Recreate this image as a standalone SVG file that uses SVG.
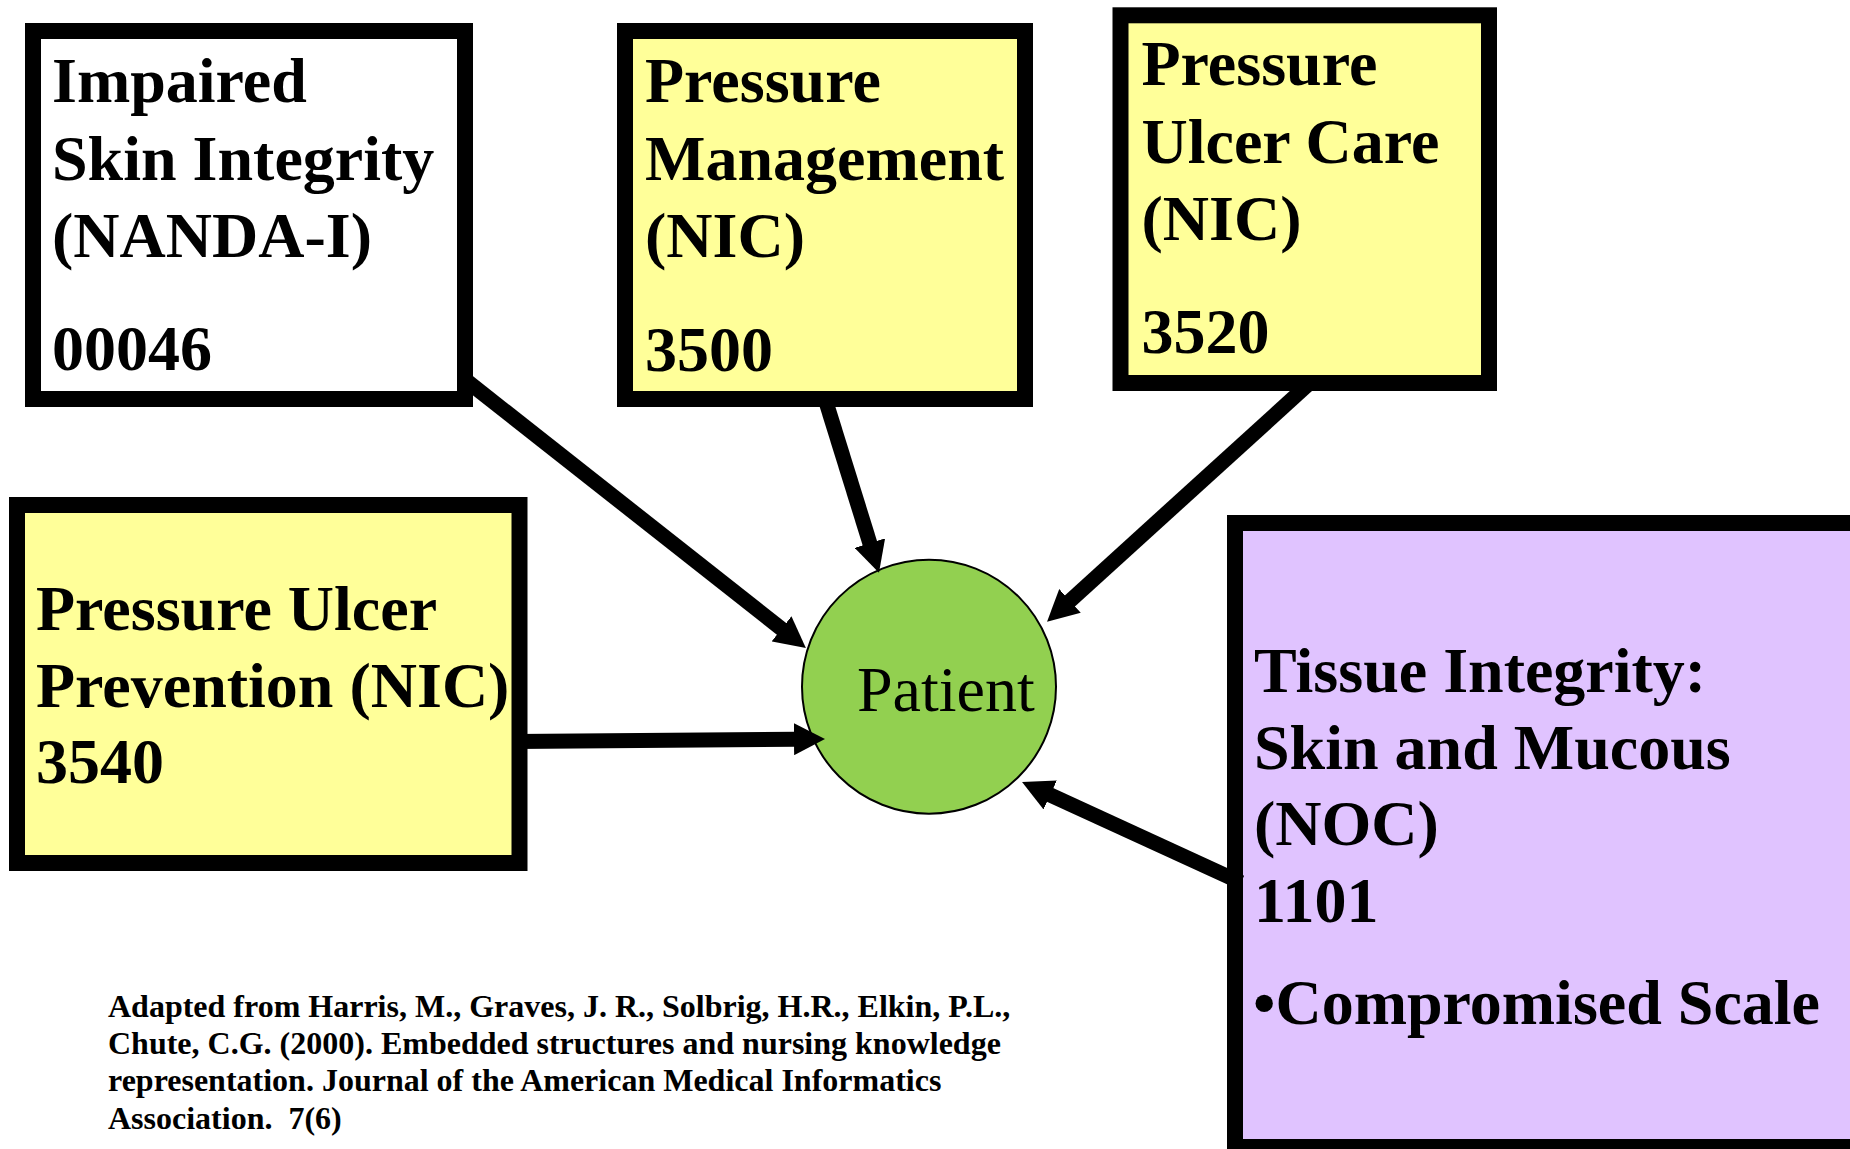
<svg xmlns="http://www.w3.org/2000/svg" width="1850" height="1149" viewBox="0 0 1850 1149">
  <style>
    .box { stroke: #000; stroke-width: 16; }
    .white { fill: #FFFFFF; }
    .yellow { fill: #FFFF99; }
    .purple { fill: #E0C3FF; }
    .lbl { font-family: "Liberation Serif", "Times New Roman", serif; font-weight: bold; font-size: 64px; fill: #000; }
    .pt { font-family: "Liberation Serif", "Times New Roman", serif; font-size: 64px; fill: #000; }
    .cite { font-family: "Liberation Serif", "Times New Roman", serif; font-weight: bold; font-size: 32px; fill: #000; white-space: pre; }
    .conn { stroke: #000; stroke-width: 15; fill: none; stroke-linecap: butt; marker-end: url(#ah); }
  </style>
  <defs>
    <marker id="ah" markerUnits="userSpaceOnUse" markerWidth="31" markerHeight="32" viewBox="0 0 31 32" refX="2" refY="16" orient="auto">
      <path d="M0,0 L31,16 L0,32 Z" fill="#000"/>
    </marker>
  </defs>
  <rect width="1850" height="1149" fill="#FFFFFF"/>

  <g id="patient">
    <circle cx="929" cy="686.7" r="127" fill="#92D050" stroke="#000" stroke-width="2"/>
    <text class="pt" x="857" y="710.7">Patient</text>
  </g>

  <g id="tissue-integrity">
    <rect class="box purple" x="1235" y="523" width="640" height="624"/>
    <text class="lbl" x="1254" y="692">Tissue Integrity:</text>
    <text class="lbl" x="1254" y="768.5">Skin and Mucous</text>
    <text class="lbl" x="1254" y="845">(NOC)</text>
    <text class="lbl" x="1254" y="921.5">1101</text>
    <text class="lbl" x="1253" y="1023.5">•Compromised Scale</text>
  </g>

  <g id="connectors">
    <line class="conn" x1="465" y1="379.5" x2="783.1" y2="630.1"/>
    <line class="conn" x1="824.5" y1="397" x2="870.4" y2="545"/>
    <line class="conn" x1="1309.4" y1="383.3" x2="1068.5" y2="602.2"/>
    <line class="conn" x1="515" y1="741.5" x2="796" y2="739.2"/>
    <line class="conn" x1="1241" y1="882.5" x2="1048.4" y2="794.1"/>
  </g>

  <g id="impaired-skin-integrity">
    <rect class="box white" x="33" y="31" width="432" height="368"/>
    <text class="lbl" x="52" y="101.7">Impaired</text>
    <text class="lbl" x="52" y="180">Skin Integrity</text>
    <text class="lbl" x="52" y="257">(NANDA-I)</text>
    <text class="lbl" x="52" y="370">00046</text>
  </g>

  <g id="pressure-management">
    <rect class="box yellow" x="625" y="31" width="400" height="368"/>
    <text class="lbl" x="645" y="102">Pressure</text>
    <text class="lbl" x="645" y="180">Management</text>
    <text class="lbl" x="645" y="257">(NIC)</text>
    <text class="lbl" x="645" y="371">3500</text>
  </g>

  <g id="pressure-ulcer-care">
    <rect class="box yellow" x="1120.5" y="15.3" width="368.5" height="367.7"/>
    <text class="lbl" x="1141.5" y="85">Pressure</text>
    <text class="lbl" x="1141.5" y="163">Ulcer Care</text>
    <text class="lbl" x="1141.5" y="240">(NIC)</text>
    <text class="lbl" x="1141.5" y="353">3520</text>
  </g>

  <g id="pressure-ulcer-prevention">
    <rect class="box yellow" x="17" y="505" width="502.5" height="358"/>
    <text class="lbl" x="36" y="630">Pressure Ulcer</text>
    <text class="lbl" x="36" y="706.7">Prevention (NIC)</text>
    <text class="lbl" x="36" y="783.3">3540</text>
  </g>

  <g id="citation">
    <text class="cite" x="108" y="1016.7">Adapted from Harris, M., Graves, J. R., Solbrig, H.R., Elkin, P.L.,</text>
    <text class="cite" x="108" y="1053.5">Chute, C.G. (2000). Embedded structures and nursing knowledge</text>
    <text class="cite" x="108" y="1091">representation. Journal of the American Medical Informatics</text>
    <text class="cite" x="108" y="1129" xml:space="preserve">Association.  7(6)</text>
  </g>
</svg>
